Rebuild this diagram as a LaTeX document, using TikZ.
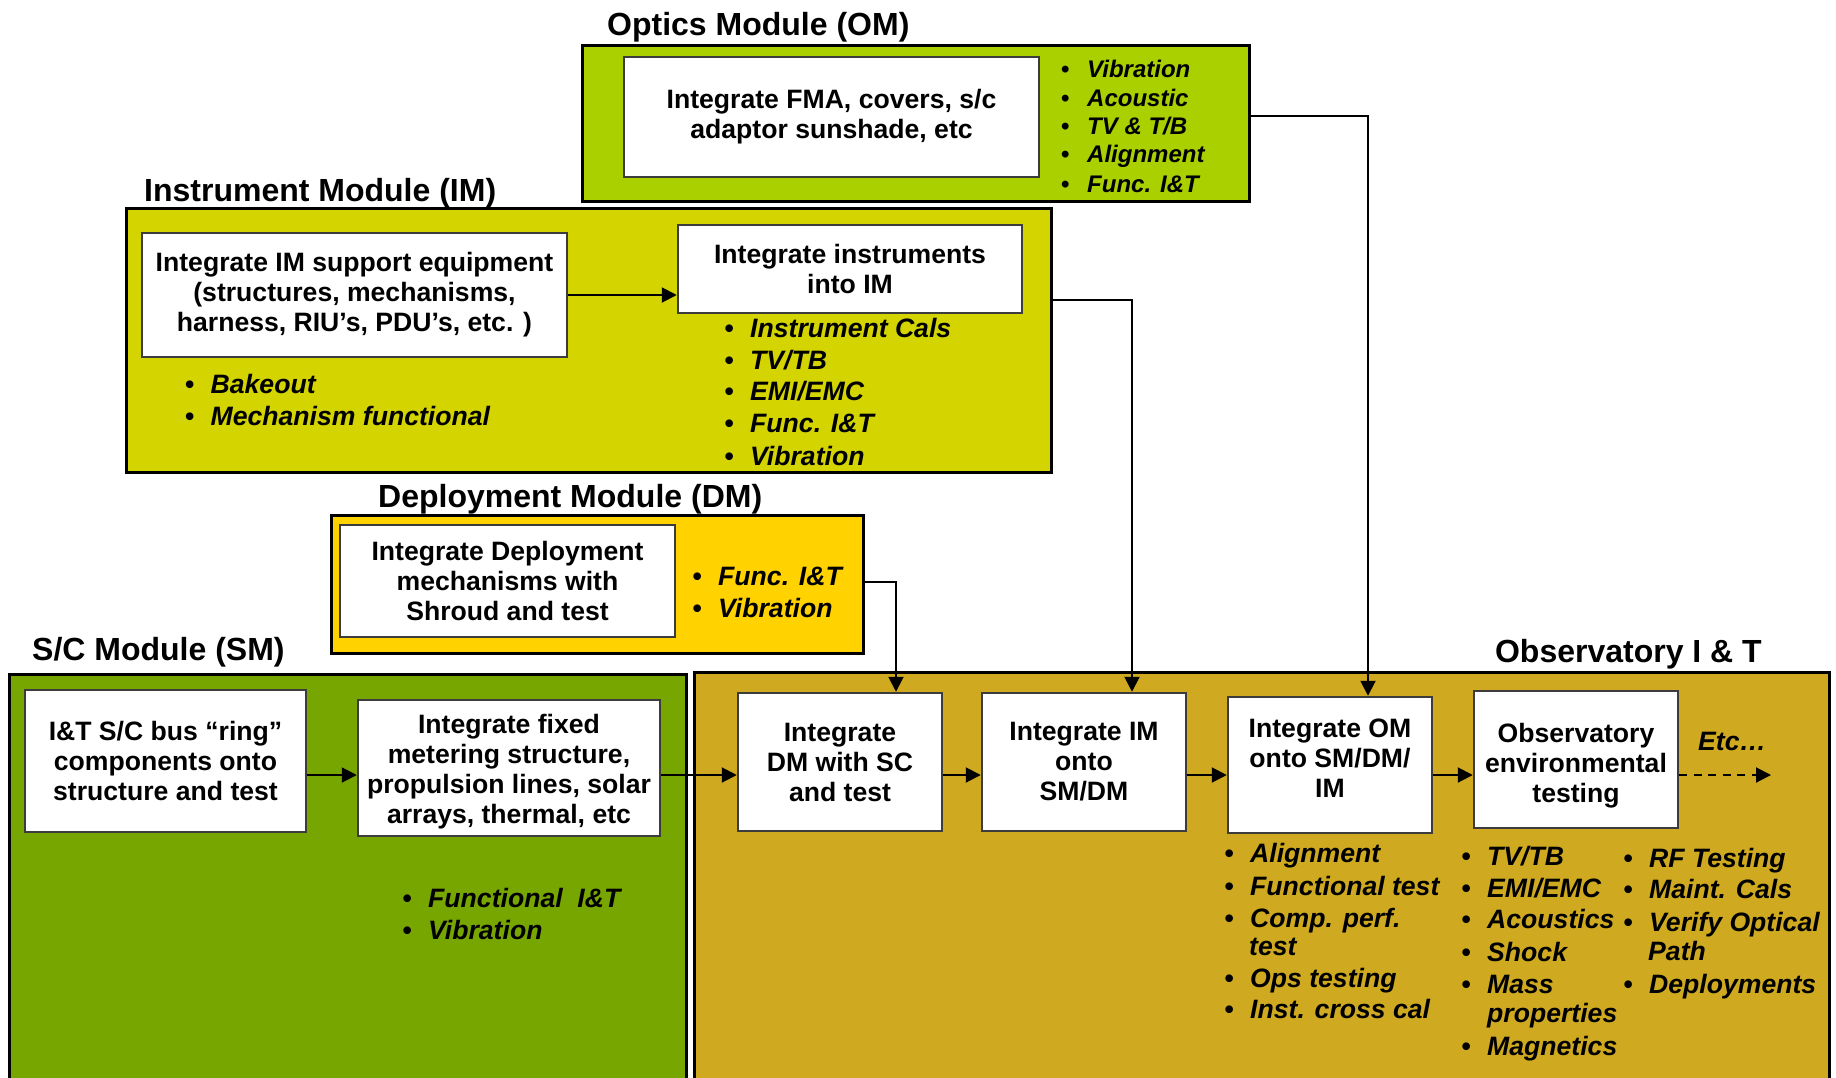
\documentclass[tikz,border=0pt]{standalone}
\usepackage{fontspec}
\setmainfont{Liberation Sans}
\usetikzlibrary{arrows.meta}
\definecolor{omgreen}{RGB}{170,208,0}
\definecolor{imyellow}{RGB}{212,212,0}
\definecolor{dmgold}{RGB}{255,210,0}
\definecolor{smgreen}{RGB}{120,166,0}
\definecolor{obsgold}{RGB}{207,170,32}
\definecolor{boxgray}{RGB}{60,60,60}
\newcommand\bxfont{\fontsize{26.6}{30}\selectfont\bfseries}
\newcommand\bli[1]{\makebox[25.5pt][l]{\upshape •}#1}
\newcommand\blis[1]{\makebox[26pt][l]{\upshape •}#1}
\begin{document}
\begin{tikzpicture}[x=1pt,y=-1pt,
  modbox/.style={draw=black, line width=3pt, inner sep=0pt},
  wbox/.style={draw=boxgray, fill=white, line width=2.5pt, inner sep=0pt, align=center, font=\bxfont},
  wtext/.style={inner sep=0pt, align=center, font=\bxfont},
  ttl/.style={inner sep=0pt, font=\fontsize{32}{36}\selectfont\bfseries},
  bl/.style={anchor=base west, inner sep=0pt, font=\fontsize{26.6}{30}\selectfont\bfseries\itshape},
  blsmall/.style={bl, font=\fontsize{24}{28}\selectfont\bfseries\itshape},
  conn/.style={draw=black, line width=2pt},
  arr/.style={conn, -{Triangle[length=15pt,width=15pt]}},
]
\useasboundingbox (0,0) rectangle (1836,1077);
\clip (0,0) rectangle (1836,1077);

% module boxes
\node[modbox, fill=omgreen, minimum width=667pt, minimum height=156pt] (om) at (915.5,123) {};
\node[modbox, fill=imyellow, minimum width=925pt, minimum height=264pt] (im) at (588.5,340) {};
\node[modbox, fill=dmgold, minimum width=532pt, minimum height=138pt] (dm) at (597,584) {};
\node[modbox, fill=smgreen, minimum width=677pt, minimum height=426pt] (sm) at (347.5,887) {};
\node[modbox, fill=obsgold, minimum width=1135pt, minimum height=428pt] (obs) at (1261.5,886) {};

% titles
\node[ttl, anchor=base west] (omtitle) at (607,35) {Optics Module (OM)};
\node[ttl, anchor=base west] (imtitle) at (144,201) {Instrument Module (IM)};
\node[ttl, anchor=base west] (dmtitle) at (378,507) {Deployment Module (DM)};
\node[ttl, anchor=base west] (smtitle) at (32,660) {S/C Module (SM)};
\node[ttl, anchor=base east] (obstitle) at (1762,662) {Observatory I \& T};

% white boxes
\node[wbox, minimum width=415pt, minimum height=120pt] (omw) at (831.5,117) {Integrate FMA, covers, s/c\\adaptor sunshade, etc};
\node[wbox, minimum width=425pt, minimum height=124pt] (imw1) at (354.5,295) {Integrate IM support equipment\\(structures, mechanisms,\\harness, RIU’s, PDU’s, etc. )};
\node[wbox, minimum width=344pt, minimum height=88pt] (imw2) at (850,269) {Integrate instruments\\into IM};
\node[wbox, minimum width=335pt, minimum height=112pt] (dmw) at (507.5,581) {Integrate Deployment\\mechanisms with\\Shroud and test};
\node[wbox, minimum width=281pt, minimum height=142pt] (smw1) at (165.5,761) {I\&T S/C bus “ring”\\components onto\\structure and test};
\node[wbox, minimum width=302pt, minimum height=136pt] (smw2) at (509,768) {};
\node[wtext] (smw2t) at (509,772) {Integrate fixed\\metering structure,\\propulsion lines, solar\\arrays, thermal, etc};
\node[wbox, minimum width=204pt, minimum height=138pt] (dmint) at (840,762) {Integrate\\DM with SC\\and test};
\node[wbox, minimum width=204pt, minimum height=138pt] (imint) at (1084,762) {Integrate IM\\onto\\SM/DM};
\node[wbox, minimum width=204pt, minimum height=136pt] (omint) at (1330,765) {};
\node[wtext] (omintt) at (1330,758) {Integrate OM\\onto SM/DM/\\IM};
\node[wbox, minimum width=204pt, minimum height=137pt] (env) at (1576,759.5) {};
\node[wtext] (envt) at (1576,766) {Observatory\\environmental\\testing};

% OM bullets
\node[blsmall] (om1) at (1061,77) {\blis{Vibration}};
\node[blsmall] (om2) at (1061,106) {\blis{Acoustic}};
\node[blsmall] (om3) at (1061,134) {\blis{TV \& T/B}};
\node[blsmall] (om4) at (1061,162) {\blis{Alignment}};
\node[blsmall] (om5) at (1061,192) {\blis{Func. I\&T}};

% IM bullets
\node[bl] (imr1) at (724.5,337) {\bli{Instrument Cals}};
\node[bl] (imr2) at (724.5,369) {\bli{TV/TB}};
\node[bl] (imr3) at (724.5,400) {\bli{EMI/EMC}};
\node[bl] (imr4) at (724.5,432) {\bli{Func. I\&T}};
\node[bl] (imr5) at (724.5,465) {\bli{Vibration}};
\node[bl] (iml1) at (185,393) {\bli{Bakeout}};
\node[bl] (iml2) at (185,425) {\bli{Mechanism functional}};

% DM bullets
\node[bl] (dm1) at (692.5,585) {\bli{Func. I\&T}};
\node[bl] (dm2) at (692.5,617) {\bli{Vibration}};

% SM bullets
\node[bl] (sm1) at (402.5,907) {\bli{Functional\ \ I\&T}};
\node[bl] (sm2) at (402.5,939) {\bli{Vibration}};

% Observatory bullets
\node[bl] (oa1) at (1224.5,862) {\bli{Alignment}};
\node[bl] (oa2) at (1224.5,895) {\bli{Functional test}};
\node[bl] (oa3) at (1224.5,927) {\bli{Comp. perf.}};
\node[bl] (oa3b) at (1249,955) {test};
\node[bl] (oa4) at (1224.5,987) {\bli{Ops testing}};
\node[bl] (oa5) at (1224.5,1018) {\bli{Inst. cross cal}};

\node[bl] (ob1) at (1461.5,865) {\bli{TV/TB}};
\node[bl] (ob2) at (1461.5,897) {\bli{EMI/EMC}};
\node[bl] (ob3) at (1461.5,928) {\bli{Acoustics}};
\node[bl] (ob4) at (1461.5,961) {\bli{Shock}};
\node[bl] (ob5) at (1461.5,993) {\bli{Mass}};
\node[bl] (ob5b) at (1487,1022) {properties};
\node[bl] (ob6) at (1461.5,1055) {\bli{Magnetics}};

\node[bl] (oc1) at (1623.5,867) {\bli{RF Testing}};
\node[bl] (oc2) at (1623.5,898) {\bli{Maint. Cals}};
\node[bl] (oc3) at (1623.5,931) {\bli{Verify Optical}};
\node[bl] (oc3b) at (1648,960) {Path};
\node[bl] (oc4) at (1623.5,993) {\bli{Deployments}};

\node[bl] (etc) at (1698,750) {Etc…};

% connectors
\coordinate (flow) at (0,775);
\coordinate (etcend) at (1771,775);
\draw[arr] (imw1.east) -- (imw1.east -| imw2.west);
\draw[arr] (smw1.east |- flow) -- (smw2.west |- flow);
\draw[arr] (smw2.east |- flow) -- (dmint.west |- flow);
\draw[arr] (dmint.east |- flow) -- (imint.west |- flow);
\draw[arr] (imint.east |- flow) -- (omint.west |- flow);
\draw[arr] (omint.east |- flow) -- (env.west |- flow);
\draw[arr, dash pattern=on 8pt off 6.5pt] (env.east |- flow) -- (etcend);

\coordinate (omturn) at (1368,116);
\draw[arr] (omturn -| om.east) -- (omturn) -- (omturn |- omint.north);
\coordinate (imturn) at (1132,300);
\draw[arr] (imturn -| im.east) -- (imturn) -- (imturn |- imint.north);
\coordinate (dmturn) at (896,582);
\draw[arr] (dmturn -| dm.east) -- (dmturn) -- (dmturn |- dmint.north);
\end{tikzpicture}
\end{document}
